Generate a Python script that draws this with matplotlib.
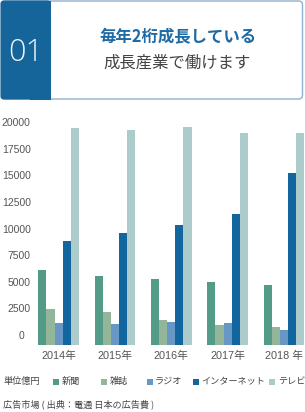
import matplotlib
matplotlib.use("Agg")
import matplotlib.pyplot as plt
from matplotlib.patches import FancyBboxPatch, Rectangle
import numpy as np

# ---- data ----
years = ["2014年", "2015年", "2016年", "2017年", "2018 年"]
series_names = ["新聞", "雑誌", "ラジオ", "インターネット", "テレビ"]
newspaper = [6060, 5530, 5220, 4930, 4680]
magazine = [2390, 2140, 1410, 910, 730]
radio = [1130, 1010, 1170, 1130, 470]
internet = [8820, 9580, 10330, 11370, 15200]
television = [19460, 19280, 19530, 18960, 18960]
yticks = [0, 2500, 5000, 7500, 10000, 12500, 15000, 17500, 20000]
title_num = "01"
title_main = "毎年2桁成長している"
title_sub = "成長産業で働けます"
unit_label = "単位億円"
source_label = "広告市場 ( 出典：電通 日本の広告費 )"

series = [newspaper, magazine, radio, internet, television]
colors = ["#549b87", "#93b59a", "#6798c5", "#13659d", "#accbcb"]

W, H = 305, 412
fig = plt.figure(figsize=(W / 100, H / 100), dpi=100)
LAT = ["Liberation Sans", "Noto Sans CJK JP", "DejaVu Sans"]
JP = ["Noto Sans CJK JP", "DejaVu Sans"]
TXT = "#555555"

# ---- overlay in pixel coordinates (header, legend) ----
ov = fig.add_axes([0, 0, 1, 1])
ov.set_xlim(0, W)
ov.set_ylim(H, 0)
ov.axis("off")

# ---- chart axes (pixel layout) ----
ax_l, ax_r, ax_t, ax_b = 36, 305, 115, 345
ax = fig.add_axes([ax_l / W, (H - ax_b) / H, (ax_r - ax_l) / W, (ax_b - ax_t) / H])
BASE = -970  # bars are anchored at the bottom of the plotting area
x = np.arange(len(years))
bw = 0.1444
for k, (vals, c) in enumerate(zip(series, colors)):
    v = np.array(vals, dtype=float)
    ax.bar(x + (k - 2) * bw, v - BASE, bottom=BASE, width=bw, color=c,
           edgecolor="none", linewidth=0)

ax.set_ylim(BASE, 20688)
ax.set_xlim(-0.403, 4.375)
ax.set_yticks(yticks)
ax.set_yticklabels([f"{t}" if t else "0  " for t in yticks], family=LAT,
                   fontsize=7.5, color=TXT)
ax.set_xticks(x)
ax.set_xticklabels(years, family=LAT, fontsize=7.8, color=TXT)
ax.tick_params(axis="both", length=0)
ax.tick_params(axis="y", pad=3.8)
ax.tick_params(axis="x", pad=4.0)
for s in ax.spines.values():
    s.set_visible(False)
ax.set_facecolor("none")

box = FancyBboxPatch((1.5, 1.0), 301, 98, boxstyle="round,pad=0,rounding_size=4",
                     facecolor="white", edgecolor="#8fb0cf", linewidth=1.0)
ov.add_patch(box)
blue = FancyBboxPatch((0.5, 0.5), 50, 99, boxstyle="round,pad=0,rounding_size=3",
                      facecolor="#15649a", edgecolor="none")
ov.add_patch(blue)
ov.add_patch(Rectangle((30, 0.5), 20.5, 99, facecolor="#15649a", edgecolor="none"))

ov.text(25.5, 52.5, title_num, ha="center", va="center", fontsize=22,
        family=["Open Sans", "DejaVu Sans"], fontweight="light", color="#ffffff",
        alpha=0.92)
ov.text(177.5, 37.5, title_main, ha="center", va="center", fontsize=11.8,
        family=JP, fontweight="bold", color="#1d6aa5")
ov.text(177.5, 63.5, title_sub, ha="center", va="center", fontsize=11.8,
        family=JP, color="#444444")

# legend
FS = 6.6
ov.text(3, 381.5, unit_label, ha="left", va="center", fontsize=FS, family=JP, color="#444444")
leg_x = [53.3, 101.3, 146.7, 192.7, 269.3]
for lx, name, c in zip(leg_x, series_names, colors):
    ov.add_patch(Rectangle((lx, 378.5), 6, 6, facecolor=c, edgecolor="none"))
    ov.text(lx + 8.5, 381.5, name, ha="left", va="center", fontsize=FS, family=JP,
            color="#444444")
ov.text(3, 404.3, source_label, ha="left", va="center", fontsize=FS, family=JP,
        color="#444444")

fig.savefig("out.png", dpi=100)
